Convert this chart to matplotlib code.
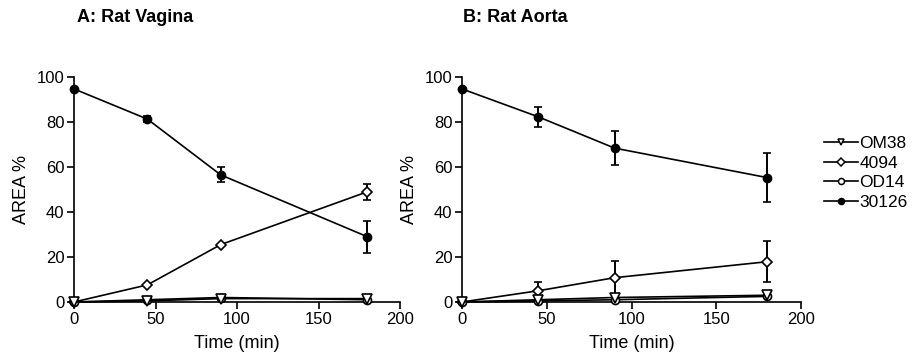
import matplotlib
matplotlib.use("Agg")
import matplotlib.pyplot as plt
from matplotlib.lines import Line2D

plt.rcParams['font.family'] = ['Liberation Sans', 'DejaVu Sans']

time = [0, 45, 90, 180]
series_names = ["OM38", "4094", "OD14", "30126"]

# Panel A: Rat Vagina
a_om38 = [0, 0.5, 1.5, 1.5]
a_om38_err = [0, 0, 0, 0]
a_4094 = [0, 7.6, 25.5, 49]
a_4094_err = [0, 0, 0, 3.5]
a_od14 = [0, 1.0, 2.0, 1.0]
a_od14_err = [0, 0, 0, 0]
a_30126 = [94.7, 81.3, 56.5, 29]
a_30126_err = [0, 1.5, 3.3, 7.2]

# Panel B: Rat Aorta
b_om38 = [0, 1.0, 2.0, 3.0]
b_om38_err = [0, 0, 1.5, 0]
b_4094 = [0, 5.0, 10.8, 17.9]
b_4094_err = [0, 4.0, 7.6, 9.0]
b_od14 = [0, 0.5, 1.0, 2.5]
b_od14_err = [0, 0, 0, 0]
b_30126 = [94.7, 82.3, 68.4, 55.3]
b_30126_err = [0, 4.4, 7.4, 10.9]

titles = ["A: Rat Vagina", "B: Rat Aorta"]

styles = {
    "OM38": dict(marker="v", mfc="white", ms=6.5),
    "4094": dict(marker="D", mfc="white", ms=5.0),
    "OD14": dict(marker="o", mfc="white", ms=5.8),
    "30126": dict(marker="o", mfc="black", ms=5.8),
}

W, H = 916, 364
fig = plt.figure(figsize=(W / 100, H / 100), dpi=100)
axA = fig.add_axes([74 / W, 1 - 302 / H, 326 / W, 225 / H])
axB = fig.add_axes([462 / W, 1 - 302 / H, 339 / W, 225 / H])

panels = [
    (axA, {"OM38": (a_om38, a_om38_err), "4094": (a_4094, a_4094_err),
           "OD14": (a_od14, a_od14_err), "30126": (a_30126, a_30126_err)}),
    (axB, {"OM38": (b_om38, b_om38_err), "4094": (b_4094, b_4094_err),
           "OD14": (b_od14, b_od14_err), "30126": (b_30126, b_30126_err)}),
]

title_x = [77, 463]
for i, (ax, data) in enumerate(panels):
    for name in ["30126", "4094", "OD14", "OM38"]:
        y, e = data[name]
        st = styles[name]
        cont = ax.errorbar(time, y, yerr=e, color="black", lw=1.2, elinewidth=1.4,
                           capsize=3, capthick=1.4, marker=st["marker"], ms=st["ms"],
                           mfc=st["mfc"], mec="black", mew=1.2, label=name, zorder=3)
        for c in cont.get_children():
            c.set_clip_on(False)
    ax.set_xlim(0, 200)
    ax.set_ylim(0, 100)
    ax.set_xticks([0, 50, 100, 150, 200])
    ax.set_yticks([0, 20, 40, 60, 80, 100])
    for s in ["top", "right"]:
        ax.spines[s].set_visible(False)
    for s in ["left", "bottom"]:
        ax.spines[s].set_linewidth(1.2)
    ax.tick_params(direction="out", length=5, width=1.2, labelsize=12, pad=2)
    ax.set_xlabel("Time (min)", fontsize=13, labelpad=6)
    ax.set_ylabel("AREA %", fontsize=13, labelpad=5)
    fig.text(title_x[i] / W, 1 - 17 / H, titles[i], fontsize=13, fontweight="bold",
             ha="left", va="center")

leg_handles = []
for name in series_names:
    st = styles[name]
    leg_handles.append(Line2D([0], [0], color="black", lw=1.2, marker=st["marker"],
                              ms=st["ms"] * 0.75, mfc=st["mfc"], mec="black", mew=1.1))
fig.legend(leg_handles, series_names, loc="center left",
           bbox_to_anchor=(824 / W, 1 - 173 / H), frameon=False, fontsize=12.5,
           handlelength=1.95, handletextpad=0.1, labelspacing=0.27,
           borderaxespad=0, borderpad=0)

fig.savefig("out.png", dpi=100)
